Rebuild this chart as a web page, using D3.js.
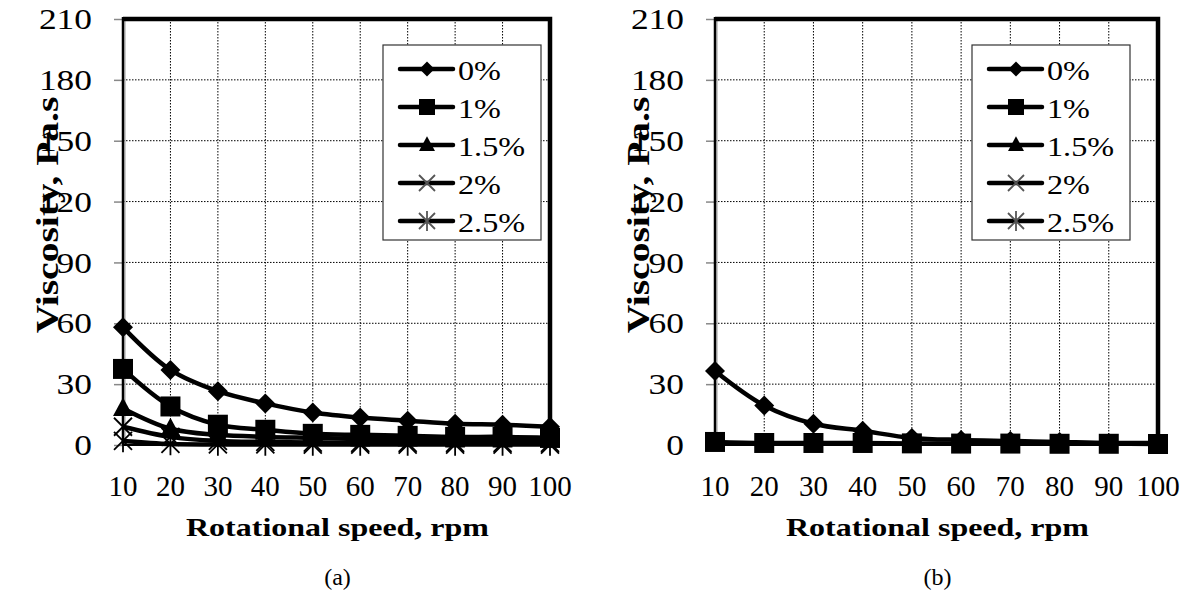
<!DOCTYPE html>
<html>
<head>
<meta charset="utf-8">
<script src="https://cdn.jsdelivr.net/npm/d3@7"></script>
</head>
<body style="margin:0">
<svg id="chart" width="1191" height="597"></svg>
<script>
// Rotational speed (rpm) on the category axis
const categories = [10, 20, 30, 40, 50, 60, 70, 80, 90, 100];
const yTickValues = [0, 30, 60, 90, 120, 150, 180, 210];
const seriesNames = ["0%", "1%", "1.5%", "2%", "2.5%"];

// Panel (a): viscosity, Pa.s
const a_0   = [58, 37, 26.5, 20.5, 16, 13.5, 12, 10.5, 10, 9];
const a_1   = [37.5, 19, 10, 7.5, 5.5, 5, 4.5, 4, 4, 3.5];
const a_15  = [18, 8, 5, 4, 3.5, 3, 3, 2.5, 2.5, 2.5];
const a_2   = [9, 4, 2, 1.5, 1.2, 1, 1, 1, 1, 1];
const a_25  = [2, 0.5, 0.3, 0.3, 0.2, 0.2, 0.2, 0.2, 0.2, 0.2];

// Panel (b): viscosity, Pa.s
const b_0   = [36.5, 19.5, 10.5, 7, 3.5, 2.5, 2, 1.5, 1, 1];
const b_1   = [1.5, 1, 1, 1, 0.8, 0.7, 0.7, 0.6, 0.6, 0.5];

const xTitle = "Rotational speed, rpm";
const yTitle = "Viscosity, Pa.s";

const svg = d3.select("#chart");
svg.append("rect").attr("width", 1191).attr("height", 597).attr("fill", "#fff");

// marker shapes (Excel-like)
function markerPath(kind, s) {
  const p = d3.path();
  if (kind === "diamond") {
    p.moveTo(0, -s); p.lineTo(s, 0); p.lineTo(0, s); p.lineTo(-s, 0); p.closePath();
  } else if (kind === "square") {
    p.rect(-s, -s, 2 * s, 2 * s);
  } else if (kind === "triangle") {
    p.moveTo(0, -s * 1.1); p.lineTo(s, s * 0.75); p.lineTo(-s, s * 0.75); p.closePath();
  } else if (kind === "times") {
    p.moveTo(-s, -s); p.lineTo(s, s); p.moveTo(s, -s); p.lineTo(-s, s);
  } else if (kind === "star") {
    p.moveTo(-s, -s); p.lineTo(s, s); p.moveTo(s, -s); p.lineTo(-s, s);
    p.moveTo(0, -s * 1.25); p.lineTo(0, s * 1.25);
  }
  return p.toString();
}
const markerKinds = ["diamond", "square", "triangle", "times", "star"];
const filled = k => k === "diamond" || k === "square" || k === "triangle";
const plotMarkerSize = { diamond: 10, square: 10, triangle: 10, times: 9, star: 9 };
const legendMarkerSize = { diamond: 7.5, square: 8, triangle: 8, times: 8, star: 8 };

function drawMarker(g, kind, x, y, s, strokeColor) {
  g.append("path")
    .attr("d", markerPath(kind, s))
    .attr("transform", `translate(${x},${y})`)
    .attr("fill", filled(kind) ? "#000" : "none")
    .attr("stroke", filled(kind) ? "none" : strokeColor)
    .attr("stroke-width", filled(kind) ? 0 : 1.8);
}

// text inside a positioned (optionally rotated / stretched) group
function placedText(parent, str, x, y, opts) {
  const wrap = parent.append("g")
    .attr("transform", `translate(${x},${y})${opts.rotate ? " rotate(" + opts.rotate + ")" : ""} scale(${opts.sx || 1},${opts.sy || 1})`);
  const t = wrap.append("text")
    .style("font-family", '"Liberation Serif"')
    .style("font-size", opts.size + "px")
    .attr("x", 0)
    .attr("y", opts.size * 0.34)
    .attr("text-anchor", opts.anchor || "middle")
    .text(str);
  if (opts.bold) t.style("font-weight", "bold");
  return t;
}

function drawPanel(cfg) {
  const g = svg.append("g");
  const x = d3.scalePoint().domain(categories).range([cfg.left, cfg.right]);
  const y = d3.scaleLinear().domain([0, 210]).range([cfg.bottom, cfg.top]);

  // gridlines
  g.append("g").selectAll("line").data(yTickValues.filter(v => v > 0 && v < 210)).join("line")
    .attr("x1", cfg.left).attr("x2", cfg.right)
    .attr("y1", d => y(d)).attr("y2", d => y(d))
    .attr("stroke", "#000").attr("stroke-width", 1).attr("stroke-dasharray", "1.5,1.5");
  g.append("g").selectAll("line").data(categories.slice(1, -1)).join("line")
    .attr("x1", d => x(d)).attr("x2", d => x(d))
    .attr("y1", cfg.top).attr("y2", cfg.bottom)
    .attr("stroke", "#000").attr("stroke-width", 1).attr("stroke-dasharray", "1.5,1.5");

  // y tick marks via d3.axisLeft (labels drawn separately)
  const yAxis = d3.axisLeft(y).tickValues(yTickValues).tickSize(9).tickFormat("");
  const ax = g.append("g").attr("transform", `translate(${cfg.left},0)`).call(yAxis);
  ax.select(".domain").remove();
  ax.selectAll(".tick line").attr("stroke", "#888").attr("stroke-width", 1.5);
  ax.selectAll(".tick text").remove();

  const labels = g.append("g");
  yTickValues.forEach(v => {
    placedText(labels, String(v), cfg.left - 31, y(v), { size: 30, anchor: "end", sx: 1.18 });
  });
  categories.forEach(c => {
    placedText(labels, String(c), x(c), cfg.bottom + 41, { size: 29, anchor: "middle" });
  });

  // titles
  placedText(labels, xTitle, (cfg.left + cfg.right) / 2 + 1, cfg.bottom + 82,
    { size: 32, bold: true, anchor: "middle", sy: 0.8 });
  placedText(labels, yTitle, cfg.yTitleX, (cfg.top + cfg.bottom) / 2 - 17,
    { size: 39.5, bold: true, anchor: "middle", rotate: -90, sy: 0.82 });
  placedText(labels, cfg.caption, (cfg.left + cfg.right) / 2 + 1, 577,
    { size: 24, anchor: "middle" });

  // plot frame: thin gray + black left axis, thick top & right
  g.append("line").attr("x1", cfg.left + 2).attr("x2", cfg.left + 2)
    .attr("y1", cfg.top).attr("y2", cfg.bottom).attr("stroke", "#999").attr("stroke-width", 1);
  g.append("line").attr("x1", cfg.left).attr("x2", cfg.left)
    .attr("y1", cfg.top - 2).attr("y2", cfg.bottom).attr("stroke", "#000").attr("stroke-width", 2.5);
  g.append("line").attr("x1", cfg.left).attr("x2", cfg.right)
    .attr("y1", cfg.bottom).attr("y2", cfg.bottom).attr("stroke", "#000").attr("stroke-width", 2);
  g.append("path")
    .attr("d", `M${cfg.left},${cfg.top}H${cfg.right}V${cfg.bottom}`)
    .attr("fill", "none").attr("stroke", "#000").attr("stroke-width", 4.5);

  // series
  const line = d3.line()
    .x((d, i) => x(categories[i]))
    .y(d => y(d))
    .curve(d3.curveCatmullRom.alpha(0.5));
  cfg.series.forEach((vals, si) => {
    if (!vals) return;
    const kind = markerKinds[si];
    g.append("path").attr("d", line(vals))
      .attr("fill", "none").attr("stroke", "#000").attr("stroke-width", 4.5)
      .attr("stroke-linejoin", "round");
    vals.forEach((v, i) => drawMarker(g, kind, x(categories[i]), y(v), plotMarkerSize[kind], "#000"));
  });

  // legend
  const lg = g.append("g");
  lg.append("rect").attr("x", cfg.legX).attr("y", cfg.legY).attr("width", 158).attr("height", 195)
    .attr("fill", "#fff").attr("stroke", "#333").attr("stroke-width", 1.2);
  seriesNames.forEach((name, i) => {
    const ry = cfg.legY + 24 + i * 38;
    const kind = markerKinds[i];
    lg.append("line").attr("x1", cfg.legX + 17).attr("x2", cfg.legX + 70)
      .attr("y1", ry).attr("y2", ry).attr("stroke", "#000").attr("stroke-width", 4.5)
      .attr("stroke-linecap", "round");
    drawMarker(lg, kind, cfg.legX + 44, ry, legendMarkerSize[kind], "#555");
    placedText(lg, name, cfg.legX + 75, ry + 1, { size: 28, anchor: "start", sx: 1.15 });
  });
}

drawPanel({
  left: 123, right: 550, top: 19, bottom: 445,
  yTitleX: 47, caption: "(a)", legX: 383, legY: 45,
  series: [a_0, a_1, a_15, a_2, a_25]
});
drawPanel({
  left: 715, right: 1158, top: 19, bottom: 445,
  yTitleX: 638, caption: "(b)", legX: 972, legY: 45,
  series: [b_0, b_1, null, null, null]
});
</script>
</body>
</html>
